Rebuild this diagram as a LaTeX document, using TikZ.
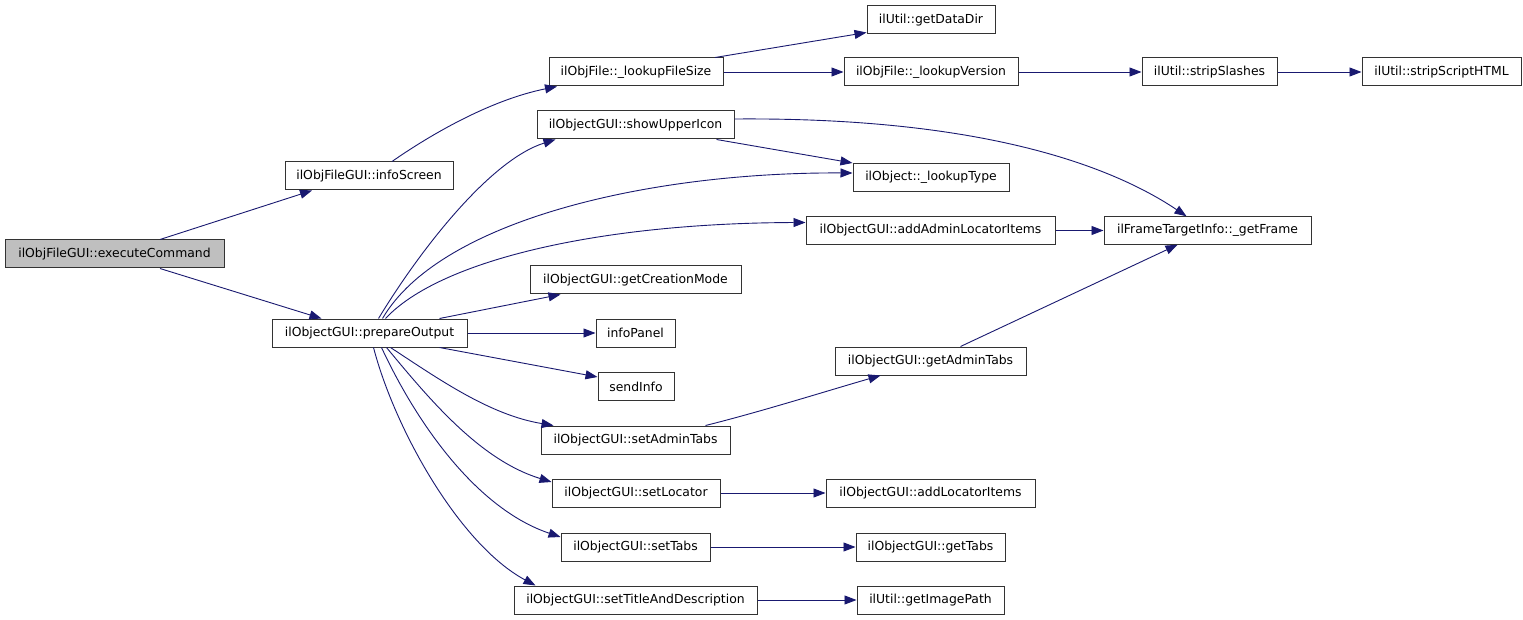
\documentclass[tikz,border=0pt]{standalone}
\usepackage{fontspec}
\setmainfont{DejaVu Sans}
\usetikzlibrary{arrows.meta}
\definecolor{edgec}{HTML}{191970}
\definecolor{boxc}{HTML}{333333}
\definecolor{hl}{HTML}{BFBFBF}
\begin{document}
\begin{tikzpicture}[x=1pt,y=-1pt,
  fn/.style={draw=boxc, line width=1pt, fill=white, minimum height=28pt, inner sep=0pt,
    font=\fontsize{12.4}{14}\selectfont, anchor=center},
  call/.style={draw=edgec, line width=0.9pt, -{Triangle[length=12pt,width=9pt]}}
]
\useasboundingbox[fill=white] (0,0) rectangle (1523,620);

% nodes
\node[fn, fill=hl, minimum width=219pt] (exec) at (114.5,254) {ilObjFileGUI::executeCommand};
\node[fn, minimum width=168pt] (infoScreen) at (369,176) {ilObjFileGUI::infoScreen};
\node[fn, minimum width=195pt] (prepare) at (369.5,333) {ilObjectGUI::prepareOutput};

\node[fn, minimum width=174pt] (lfs) at (636,72) {ilObjFile::\_lookupFileSize};
\node[fn, minimum width=197pt] (sui) at (635.5,125) {ilObjectGUI::showUpperIcon};
\node[fn, minimum width=211pt] (gcm) at (635.5,280) {ilObjectGUI::getCreationMode};
\node[fn, minimum width=79pt] (ip) at (635.5,333) {infoPanel};
\node[fn, minimum width=76pt] (si) at (636,386.5) {sendInfo};
\node[fn, minimum width=189pt] (sat) at (635.5,440) {ilObjectGUI::setAdminTabs};
\node[fn, minimum width=168pt] (sl) at (636,493) {ilObjectGUI::setLocator};
\node[fn, minimum width=149pt] (st) at (635.5,547) {ilObjectGUI::setTabs};
\node[fn, minimum width=243pt] (stad) at (635.5,600) {ilObjectGUI::setTitleAndDescription};

\node[fn, minimum width=128pt] (gdd) at (931,20) {ilUtil::getDataDir};
\node[fn, minimum width=174pt] (lv) at (931,72) {ilObjFile::\_lookupVersion};
\node[fn, minimum width=156pt] (lt) at (931,177.5) {ilObject::\_lookupType};
\node[fn, minimum width=249pt, minimum height=27.5pt] (aali) at (930.5,230.5) {ilObjectGUI::addAdminLocatorItems};
\node[fn, minimum width=191pt] (gat) at (930.5,361) {ilObjectGUI::getAdminTabs};
\node[fn, minimum width=209pt] (ali) at (930.5,493) {ilObjectGUI::addLocatorItems};
\node[fn, minimum width=149pt] (gt) at (930.5,547) {ilObjectGUI::getTabs};
\node[fn, minimum width=147pt] (gip) at (930.5,600) {ilUtil::getImagePath};

\node[fn, minimum width=135pt] (ss) at (1209.5,72) {ilUtil::stripSlashes};
\node[fn, minimum width=207pt, minimum height=27.5pt] (gf) at (1207.5,230.5) {ilFrameTargetInfo::\_getFrame};
\node[fn, minimum width=159pt] (ssh) at (1441.5,72) {ilUtil::stripScriptHTML};

% edges
\draw[call] ([xshift=45.5pt]exec.north) -- ([xshift=-57pt]infoScreen.south);
\draw[call] ([xshift=45.5pt]exec.south) -- ([xshift=-48pt]prepare.north);
\draw[call] ([xshift=23pt]infoScreen.north) .. controls (430,135) and (490,100) .. ([xshift=-79pt]lfs.south);

\draw[call] ([xshift=79pt]lfs.north) -- ([yshift=2pt]gdd.south west);
\draw[call] (lfs.east) -- (lv.west);
\draw[call] (lv.east) -- (ss.west);
\draw[call] (ss.east) -- (ssh.west);

\draw[call] ([yshift=6pt]sui.east) .. controls (980,117) and (1110,165) .. ([xshift=-21pt]gf.north);
\draw[call] ([xshift=81pt]sui.south) -- (lt.north west);

\draw[call] ([xshift=9pt]prepare.north) .. controls (420,250) and (490,160) .. ([xshift=-80pt]sui.south);
\draw[call] ([xshift=13pt]prepare.north) .. controls (440,220) and (650,172) .. ([yshift=4.5pt]lt.west);
\draw[call] ([xshift=16pt]prepare.north) .. controls (440,260) and (600,223) .. ([yshift=8pt]aali.west);
\draw[call] ([xshift=70pt]prepare.north) -- ([xshift=-75pt]gcm.south);
\draw[call] (prepare.east) -- (ip.west);
\draw[call] ([xshift=70pt]prepare.south) -- ([yshift=9.5pt]si.west);
\draw[call] ([xshift=21pt]prepare.south) .. controls (440,380) and (490,415) .. ([xshift=-82pt]sat.north);
\draw[call] ([xshift=17pt]prepare.south) .. controls (430,400) and (480,460) .. ([yshift=11pt]sl.west);
\draw[call] ([xshift=12pt]prepare.south) .. controls (420,430) and (480,510) .. ([yshift=10pt]st.west);
\draw[call] ([xshift=4pt]prepare.south) .. controls (395,430) and (460,545) .. ([xshift=-100pt]stad.north);

\draw[call] ([xshift=70pt]sat.north) .. controls (760,412) and (830,390) .. ([xshift=-50pt]gat.south);
\draw[call] ([xshift=30pt]gat.north) -- ([xshift=-30pt]gf.south);
\draw[call] (aali.east) -- (gf.west);
\draw[call] (sl.east) -- (ali.west);
\draw[call] (st.east) -- (gt.west);
\draw[call] (stad.east) -- (gip.west);
\end{tikzpicture}
\end{document}
